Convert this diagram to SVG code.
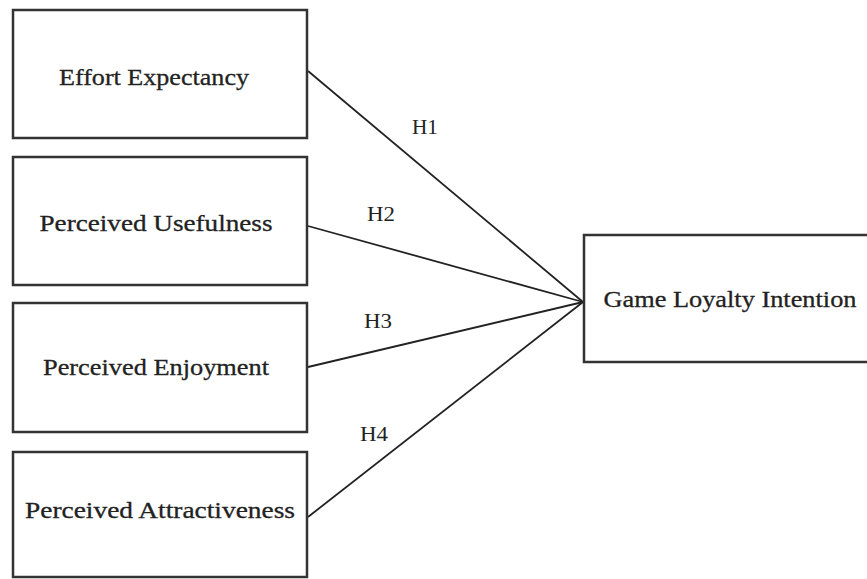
<svg xmlns="http://www.w3.org/2000/svg" width="867" height="579" viewBox="0 0 867 579">
<style>
.box{fill:#fff;stroke:#333;stroke-width:2.5}
.t{font-family:"Liberation Serif","Times New Roman",serif;font-size:24px;fill:#222;stroke:#222;stroke-width:0.3;text-anchor:middle}
.h{font-family:"Liberation Serif","Times New Roman",serif;font-size:20px;fill:#222;text-anchor:middle}
.c{stroke:#222;stroke-width:1.8;fill:none}
</style>
<rect width="867" height="579" fill="#fff"/>
<g id="connectors">
<line class="c" x1="308" y1="71" x2="583" y2="302"/>
<line class="c" x1="308" y1="226" x2="583" y2="302"/>
<line class="c" x1="308" y1="367" x2="583" y2="302"/>
<line class="c" x1="308" y1="517" x2="583" y2="302"/>
<text class="h" x="425" y="134" textLength="26" lengthAdjust="spacingAndGlyphs">H1</text>
<text class="h" x="381" y="221" textLength="28" lengthAdjust="spacingAndGlyphs">H2</text>
<text class="h" x="378" y="328" textLength="28" lengthAdjust="spacingAndGlyphs">H3</text>
<text class="h" x="374" y="441" textLength="28" lengthAdjust="spacingAndGlyphs">H4</text>
</g>
<g id="effort"><rect class="box" x="13" y="10" width="294" height="128"/><text class="t" x="154" y="85" textLength="190" lengthAdjust="spacingAndGlyphs">Effort Expectancy</text></g>
<g id="usefulness"><rect class="box" x="13" y="157" width="294" height="128"/><text class="t" x="156" y="231" textLength="233" lengthAdjust="spacingAndGlyphs">Perceived Usefulness</text></g>
<g id="enjoyment"><rect class="box" x="13" y="303" width="294" height="129"/><text class="t" x="156" y="375" textLength="226" lengthAdjust="spacingAndGlyphs">Perceived Enjoyment</text></g>
<g id="attractiveness"><rect class="box" x="13" y="452" width="294" height="125"/><text class="t" x="160" y="518" textLength="270" lengthAdjust="spacingAndGlyphs">Perceived Attractiveness</text></g>
<g id="loyalty"><rect class="box" x="584" y="235" width="290" height="127"/><text class="t" x="730" y="307" textLength="253" lengthAdjust="spacingAndGlyphs">Game Loyalty Intention</text></g>
</svg>
